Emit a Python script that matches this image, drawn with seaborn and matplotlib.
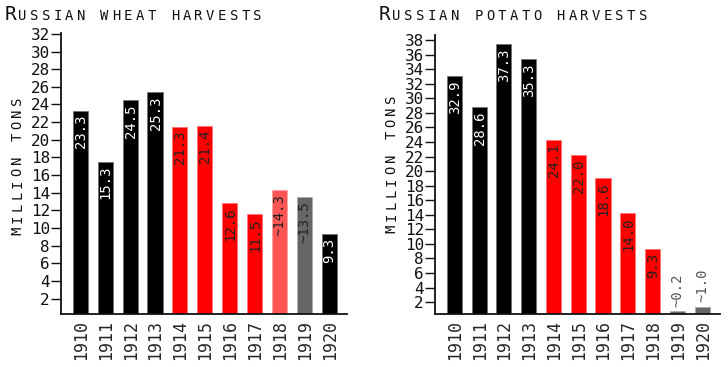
import matplotlib
matplotlib.use("Agg")
import matplotlib.pyplot as plt
import seaborn as sns
import pandas as pd

years = [str(y) for y in range(1910, 1921)]

wheat_values = [23.3, 17.5, 24.5, 25.4, 21.5, 21.6, 12.8, 11.6, 14.3, 13.5, 9.3]
wheat_labels = ["23.3", "15.3", "24.5", "25.3", "21.3", "21.4", "12.6", "11.5",
                "~14.3", "~13.5", "9.3"]
wheat_colors = ["#000000"] * 4 + ["#ff0000"] * 4 + ["#ff5555", "#666666", "#000000"]

potato_values = [33.0, 28.8, 37.4, 35.4, 24.3, 22.2, 19.0, 14.2, 9.3, 0.8, 1.4]
potato_labels = ["32.9", "28.6", "37.3", "35.3", "24.1", "22.0", "18.6", "14.0",
                 "9.3", "~0.2", "~1.0"]
potato_colors = ["#000000"] * 4 + ["#ff0000"] * 5 + ["#666666", "#666666"]

sns.set_style("ticks")
plt.rcParams["font.family"] = ["DejaVu Sans Mono", "DejaVu Sans"]

W, H = 728, 367
fig = plt.figure(figsize=(W / 100, H / 100), dpi=100)


def px_axes(x0, x1, y0, y1):
    return fig.add_axes([x0 / W, 1 - y1 / H, (x1 - x0) / W, (y1 - y0) / H])


def spaced(text, x, y, adv, size_first, size_rest, rotation=0):
    for i, ch in enumerate(text):
        if ch == " ":
            continue
        sz = size_first if i == 0 else size_rest
        if rotation == 0:
            fx, fy = (x + i * adv) / W, 1 - y / H
        else:
            fx, fy = x / W, 1 - (y - i * adv) / H
        fig.text(fx, fy, ch, fontsize=sz, ha="center", va="baseline",
                 rotation=rotation, rotation_mode="anchor", color="#111111")


def panel(ax, values, labels, colors, ymax, ytop, ybot, title, tx):
    df = pd.DataFrame({"year": years, "value": values})
    sns.barplot(data=df, x="year", y="value", hue="year", palette=colors,
                legend=False, width=0.65, ax=ax, saturation=1,
                edgecolor=(1, 1, 1, 0.55), linewidth=1.2)
    ax.set_xlim(-0.8, 10.7)
    ax.set_ylim(ybot, ytop)
    ax.set_yticks(range(2, ymax + 1, 2))
    ax.tick_params(axis="y", length=7, width=1, pad=1, labelsize=11.5, colors="#111111")
    ax.tick_params(axis="x", length=0, pad=4, labelsize=12, labelrotation=90)
    ax.set_xlabel("")
    ax.set_ylabel("")
    sns.despine(ax=ax)
    for s in ("left", "bottom"):
        ax.spines[s].set_linewidth(1.3)
        ax.spines[s].set_color("#111111")
    for p, lab, c in zip(ax.patches, labels, colors):
        cx = p.get_x() + p.get_width() / 2
        h = p.get_height()
        if h < 3:
            ax.annotate(lab, (cx, h), xytext=(0, 3), textcoords="offset points",
                        rotation=90, ha="center", va="bottom", fontsize=10,
                        color="#555555")
        else:
            tc = "white" if c == "#000000" else "#222222"
            ax.annotate(lab, (cx, h), xytext=(0, -3), textcoords="offset points",
                        rotation=90, ha="center", va="top", fontsize=10, color=tc)
    spaced(title, tx, 20, 11.75, 14, 10)


ax1 = px_axes(61, 347, 33, 314)
panel(ax1, wheat_values, wheat_labels, wheat_colors, 32, 32.1, 0.25,
      "Russian wheat harvests".upper(), 10.5)
spaced("MILLION TONS", 21.5, 230.5, 11.77, 10, 10, rotation=90)

ax2 = px_axes(435, 720, 35, 314)
panel(ax2, potato_values, potato_labels, potato_colors, 38, 38.7, 0.37,
      "Russian potato harvests".upper(), 384.5)
spaced("MILLION TONS", 395.5, 228.5, 11.77, 10, 10, rotation=90)

fig.savefig("out.png", dpi=100)
